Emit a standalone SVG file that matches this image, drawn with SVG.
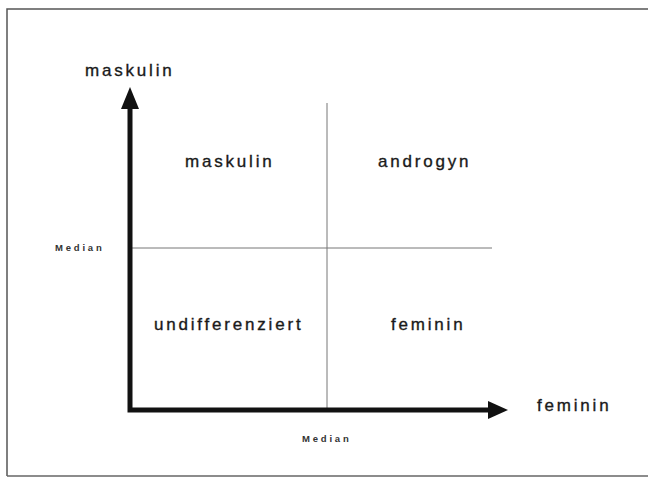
<svg xmlns="http://www.w3.org/2000/svg" width="648" height="479" viewBox="0 0 648 479">
<style>
.lbl{font-family:"Liberation Sans",Arial,sans-serif;font-size:17px;letter-spacing:2.8px;fill:#1a1a1a;stroke:#1a1a1a;stroke-width:0.35}
.med{font-family:"Liberation Sans",Arial,sans-serif;font-size:9.5px;font-weight:bold;letter-spacing:2.8px;fill:#333}
.axis{stroke:#111;stroke-width:5;fill:none}
.thin{stroke:#777;stroke-width:1;fill:none}
</style>
<rect x="0" y="0" width="648" height="479" fill="#fff"/>
<path d="M7,476 V9 H648" stroke="#555" stroke-width="1.5" fill="none"/>
<line x1="7" y1="476" x2="648" y2="476" stroke="#666" stroke-width="1.5"/>
<g id="connectors">
<line class="thin" x1="327" y1="103" x2="327" y2="410"/>
<line class="thin" x1="130" y1="248" x2="492" y2="248"/>
<path class="axis" d="M130,106 V410 H490"/>
<polygon points="130,87 121,109 139,109" fill="#111"/>
<polygon points="508,410 488,401 488,419" fill="#111"/>
</g>
<g id="axis-y-label"><text class="lbl" x="85" y="76">maskulin</text></g>
<g id="axis-x-label"><text class="lbl" x="537" y="411">feminin</text></g>
<g id="median-y"><text class="med" x="55" y="251">Median</text></g>
<g id="median-x"><text class="med" x="302" y="442">Median</text></g>
<g id="q-maskulin"><text class="lbl" x="185" y="167">maskulin</text></g>
<g id="q-androgyn"><text class="lbl" x="378" y="167">androgyn</text></g>
<g id="q-undifferenziert"><text class="lbl" x="154" y="330">undifferenziert</text></g>
<g id="q-feminin"><text class="lbl" x="391" y="330">feminin</text></g>
</svg>
